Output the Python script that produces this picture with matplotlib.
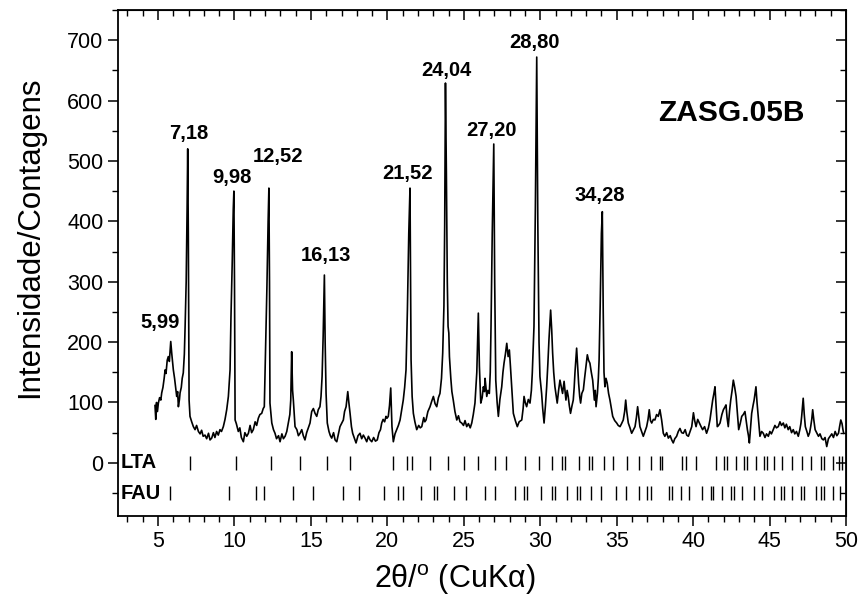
import matplotlib
matplotlib.use("Agg")
import matplotlib.pyplot as plt
from matplotlib.ticker import MultipleLocator

plt.rcParams['font.family'] = ['Liberation Sans', 'DejaVu Sans']
plt.rcParams['mathtext.default'] = 'regular'

# difratograma (2theta em graus, contagens)
two_theta = [
    4.80, 4.85, 4.90, 4.96, 5.02, 5.10, 5.18, 5.24, 5.32, 5.40,
    5.46, 5.52, 5.60, 5.67, 5.74, 5.83, 5.90, 6.00, 6.08, 6.15,
    6.22, 6.28, 6.33, 6.40, 6.44, 6.52, 6.58, 6.65, 6.72, 6.77,
    6.84, 6.90, 6.94, 6.98, 7.03, 7.09, 7.20, 7.31, 7.42, 7.52,
    7.64, 7.75, 7.85, 7.95, 8.07, 8.18, 8.30, 8.40, 8.51, 8.62,
    8.72, 8.83, 8.94, 9.05, 9.15, 9.27, 9.38, 9.49, 9.60, 9.71,
    9.77, 9.85, 9.92, 9.96, 10.00, 10.04, 10.12, 10.25, 10.35, 10.45,
    10.58, 10.68, 10.80, 10.91, 11.02, 11.12, 11.23, 11.35, 11.45, 11.56,
    11.66, 11.78, 11.88, 11.95, 12.04, 12.12, 12.20, 12.25, 12.29, 12.32,
    12.44, 12.55, 12.65, 12.75, 12.88, 12.98, 13.10, 13.20, 13.31, 13.42,
    13.52, 13.62, 13.68, 13.74, 13.80, 13.85, 13.96, 14.08, 14.18, 14.29,
    14.40, 14.50, 14.61, 14.72, 14.83, 14.94, 15.05, 15.16, 15.27, 15.38,
    15.48, 15.59, 15.66, 15.73, 15.80, 15.88, 15.93, 15.99, 16.07, 16.18,
    16.27, 16.36, 16.48, 16.58, 16.69, 16.80, 16.90, 17.00, 17.12, 17.20,
    17.30, 17.41, 17.48, 17.56, 17.65, 17.73, 17.85, 17.95, 18.08, 18.21,
    18.32, 18.43, 18.54, 18.65, 18.76, 18.87, 18.98, 19.10, 19.22, 19.34,
    19.45, 19.55, 19.63, 19.72, 19.82, 19.91, 19.98, 20.06, 20.14, 20.22,
    20.30, 20.39, 20.50, 20.61, 20.72, 20.83, 20.94, 21.04, 21.13, 21.22,
    21.31, 21.40, 21.48, 21.55, 21.62, 21.70, 21.80, 21.92, 22.05, 22.15,
    22.25, 22.38, 22.45, 22.53, 22.65, 22.79, 22.90, 23.01, 23.12, 23.23,
    23.34, 23.44, 23.54, 23.62, 23.70, 23.75, 23.80, 23.86, 23.92, 23.97,
    24.02, 24.06, 24.15, 24.22, 24.31, 24.42, 24.54, 24.65, 24.75, 24.86,
    24.98, 25.08, 25.19, 25.30, 25.42, 25.52, 25.62, 25.73, 25.85, 25.95,
    26.02, 26.11, 26.20, 26.28, 26.35, 26.39, 26.45, 26.50, 26.58, 26.67,
    26.73, 26.78, 26.86, 26.96, 27.02, 27.09, 27.18, 27.26, 27.36, 27.48,
    27.56, 27.63, 27.72, 27.81, 27.90, 27.98, 28.05, 28.13, 28.24, 28.37,
    28.50, 28.62, 28.79, 28.88, 28.94, 29.02, 29.11, 29.22, 29.33, 29.42,
    29.48, 29.59, 29.68, 29.77, 29.84, 29.92, 29.98, 30.09, 30.16, 30.25,
    30.34, 30.42, 30.50, 30.57, 30.68, 30.75, 30.81, 30.88, 30.96, 31.05,
    31.11, 31.20, 31.29, 31.38, 31.46, 31.56, 31.68, 31.76, 31.83, 31.90,
    31.98, 32.08, 32.16, 32.22, 32.27, 32.38, 32.45, 32.51, 32.58, 32.64,
    32.72, 32.82, 32.90, 32.99, 33.08, 33.16, 33.25, 33.34, 33.43, 33.54,
    33.60, 33.65, 33.74, 33.80, 33.85, 33.92, 34.00, 34.06, 34.12, 34.17,
    34.23, 34.30, 34.38, 34.47, 34.56, 34.65, 34.74, 34.87, 35.00, 35.10,
    35.22, 35.32, 35.43, 35.52, 35.59, 35.66, 35.76, 35.87, 35.98, 36.10,
    36.20, 36.29, 36.37, 36.45, 36.52, 36.63, 36.74, 36.85, 36.96, 37.05,
    37.13, 37.21, 37.29, 37.40, 37.50, 37.61, 37.72, 37.83, 37.94, 38.05,
    38.15, 38.27, 38.38, 38.50, 38.60, 38.70, 38.80, 38.92, 39.03, 39.14,
    39.25, 39.36, 39.48, 39.58, 39.69, 39.80, 39.91, 40.02, 40.10, 40.19,
    40.30, 40.41, 40.52, 40.62, 40.75, 40.88, 41.00, 41.10, 41.20, 41.28,
    41.36, 41.43, 41.50, 41.58, 41.66, 41.76, 41.88, 41.98, 42.07, 42.15,
    42.22, 42.30, 42.38, 42.46, 42.55, 42.63, 42.72, 42.81, 42.90, 42.98,
    43.08, 43.18, 43.28, 43.39, 43.47, 43.55, 43.62, 43.68, 43.76, 43.83,
    43.92, 43.99, 44.05, 44.11, 44.18, 44.26, 44.32, 44.37, 44.48, 44.59,
    44.70, 44.80, 44.92, 45.02, 45.12, 45.24, 45.35, 45.45, 45.57, 45.68,
    45.78, 45.90, 46.00, 46.10, 46.22, 46.32, 46.44, 46.55, 46.65, 46.76,
    46.88, 46.98, 47.05, 47.10, 47.20, 47.27, 47.34, 47.44, 47.53, 47.62,
    47.69, 47.76, 47.82, 47.90, 47.98, 48.08, 48.20, 48.30, 48.42, 48.52,
    48.63, 48.74, 48.85, 48.96, 49.07, 49.18, 49.29, 49.40, 49.51, 49.58,
    49.66, 49.74, 49.80, 49.85,
]
counts = [
    95, 72, 100, 85, 99, 108, 104, 116, 125, 140,
    154, 148, 170, 176, 168, 201, 180, 154, 140, 125,
    110, 118, 93, 105, 116, 125, 140, 149, 180, 226,
    300, 420, 520, 380, 104, 77, 68, 60, 55, 62,
    52, 48, 54, 44, 46, 40, 49, 38, 41, 50,
    42, 52, 46, 55, 52, 60, 72, 88, 110, 154,
    242, 330, 420, 450, 300, 71, 65, 52, 58, 42,
    35, 50, 44, 49, 62, 50, 55, 68, 62, 74,
    80, 82, 90, 93, 198, 290, 400, 455, 300, 99,
    66, 55, 49, 40, 45, 35, 48, 40, 44, 52,
    66, 80, 104, 184, 120, 104, 60, 55, 45, 49,
    55, 45, 38, 50, 58, 66, 85, 90, 82, 77,
    88, 93, 110, 143, 210, 311, 200, 115, 66, 52,
    45, 41, 50, 38, 35, 48, 60, 65, 71, 85,
    93, 118, 100, 82, 60, 49, 40, 33, 45, 49,
    40, 46, 41, 35, 44, 38, 35, 42, 36, 38,
    50, 55, 66, 72, 68, 77, 74, 77, 95, 124,
    60, 35, 48, 55, 62, 71, 88, 104, 125, 154,
    253, 380, 455, 171, 110, 82, 68, 55, 62, 58,
    60, 75, 68, 71, 85, 93, 102, 110, 98, 93,
    108, 115, 140, 182, 260, 394, 629, 480, 300, 226,
    215, 176, 140, 118, 104, 85, 71, 78, 68, 66,
    62, 70, 60, 65, 58, 66, 80, 99, 150, 248,
    160, 99, 108, 126, 118, 140, 125, 110, 120, 115,
    150, 226, 380, 528, 300, 137, 100, 77, 105, 126,
    150, 165, 180, 198, 176, 187, 160, 126, 82, 70,
    60, 68, 71, 90, 110, 100, 93, 105, 99, 120,
    149, 226, 420, 672, 400, 200, 143, 115, 90, 66,
    95, 126, 165, 204, 253, 220, 182, 150, 126, 110,
    99, 120, 137, 125, 115, 135, 104, 120, 110, 95,
    82, 95, 104, 125, 149, 190, 160, 132, 110, 99,
    115, 121, 140, 159, 179, 170, 165, 150, 137, 104,
    120, 93, 115, 140, 171, 260, 380, 416, 250, 150,
    126, 140, 132, 115, 104, 90, 77, 70, 66, 62,
    60, 65, 71, 85, 104, 85, 66, 58, 49, 55,
    60, 75, 93, 75, 60, 52, 44, 52, 60, 72,
    88, 70, 66, 72, 71, 80, 77, 88, 71, 49,
    44, 50, 41, 45, 38, 33, 40, 44, 52, 57,
    50, 49, 55, 46, 44, 52, 60, 83, 70, 60,
    72, 66, 60, 55, 60, 49, 58, 71, 90, 104,
    115, 126, 95, 60, 62, 66, 80, 88, 92, 96,
    75, 60, 85, 104, 120, 137, 125, 110, 80, 55,
    65, 77, 80, 85, 70, 55, 45, 33, 60, 82,
    95, 104, 115, 126, 100, 77, 60, 44, 52, 49,
    42, 48, 44, 52, 48, 55, 62, 58, 60, 68,
    62, 66, 58, 64, 55, 60, 50, 55, 48, 52,
    44, 55, 65, 77, 107, 80, 60, 52, 44, 50,
    60, 72, 88, 70, 55, 50, 44, 48, 40, 38,
    42, 27, 40, 44, 48, 42, 52, 45, 49, 60,
    71, 65, 55, 49,
]

# posições das fichas padrão
lta_lines = [7.10, 10.09, 12.40, 14.30, 16.05, 17.57, 20.37, 21.28, 21.61, 22.81,
             23.94, 25.04, 25.96, 27.07, 27.79, 29.03, 29.91, 30.78, 31.44, 31.65,
             32.52, 33.18, 33.40, 34.16, 34.78, 35.69, 36.46, 37.22, 37.83, 37.99,
             39.25, 39.51, 40.17, 41.48, 42.02, 42.20, 42.79, 43.33, 43.51, 44.10,
             44.65, 44.82, 45.30, 45.84, 46.50, 47.15, 47.70, 48.35, 48.53, 49.12,
             49.55, 49.71]
fau_lines = [5.79, 9.67, 11.40, 11.94, 13.82, 15.13, 17.09, 18.12, 19.80, 20.67,
             21.00, 22.20, 23.03, 23.25, 24.38, 25.17, 26.41, 27.07, 28.38, 28.92,
             29.14, 30.06, 30.78, 30.95, 31.76, 32.42, 32.59, 33.34, 33.95, 34.93,
             35.58, 36.46, 37.00, 37.22, 38.42, 38.64, 39.19, 39.73, 40.61, 41.15,
             41.33, 41.91, 42.46, 42.68, 43.22, 43.98, 44.53, 45.30, 45.73, 45.95,
             46.50, 47.04, 47.26, 48.03, 48.35, 48.57, 49.12, 49.62]

peak_labels = ['5,99', '7,18', '9,98', '12,52', '16,13', '21,52', '24,04', '27,20', '28,80', '34,28']
label_pos = [(5.10, 232), (7.00, 545), (9.84, 473), (12.83, 508), (15.97, 343),
             (21.33, 480), (23.88, 649), (26.84, 551), (29.63, 696), (33.87, 442)]

fig = plt.figure(figsize=(8.62, 6.0), dpi=100)
ax = fig.add_axes([118/862, 1 - 516/600, (846 - 118)/862, (516 - 10)/600])

ax.plot(two_theta, counts, color='black', linewidth=1.2)

# barras de referência LTA / FAU
ax.vlines(lta_lines, -12, 12, color='black', linewidth=1.0)
ax.vlines(fau_lines, -62, -38, color='black', linewidth=1.0)
ax.text(2.55, 0, 'LTA', fontsize=14.5, fontweight='bold', va='center', ha='left')
ax.text(2.55, -50, 'FAU', fontsize=14.5, fontweight='bold', va='center', ha='left')

for txt, (px, py) in zip(peak_labels, label_pos):
    ax.text(px, py, txt, fontsize=14.5, fontweight='bold', ha='center', va='center')

ax.text(42.52, 579, 'ZASG.05B', fontsize=21.5, fontweight='bold', ha='center', va='center')

ax.set_xlim(2.38, 50.0)
ax.set_ylim(-88, 750)
ax.set_xticks(range(5, 51, 5))
ax.set_yticks(range(0, 701, 100))
ax.xaxis.set_minor_locator(MultipleLocator(1))
ax.yaxis.set_minor_locator(MultipleLocator(50))
ax.tick_params(which='major', direction='out', length=7, width=1.1, labelsize=15.5)
ax.tick_params(which='minor', direction='out', length=4, width=1.0)

# ticks internos no topo e à direita
top = ax.secondary_xaxis('top')
top.set_xticks(range(5, 51, 5))
top.xaxis.set_minor_locator(MultipleLocator(1))
top.tick_params(which='major', direction='in', length=7, width=1.1, labeltop=False)
top.tick_params(which='minor', direction='in', length=4, width=1.0)
right = ax.secondary_yaxis('right')
right.set_yticks(range(0, 701, 100))
right.yaxis.set_minor_locator(MultipleLocator(50))
right.tick_params(which='major', direction='in', length=7, width=1.1, labelright=False)
right.tick_params(which='minor', direction='in', length=4, width=1.0)

for sp in ax.spines.values():
    sp.set_linewidth(1.3)

fig.text(30/862, 1 - 237/600, 'Intensidade/Contagens', fontsize=22.5, rotation=90,
         ha='center', va='center')
fig.text(455/862, 1 - 580/600, '2θ/$^o$ (CuKα)', fontsize=22, ha='center', va='center')

fig.savefig('out.png', dpi=100)
